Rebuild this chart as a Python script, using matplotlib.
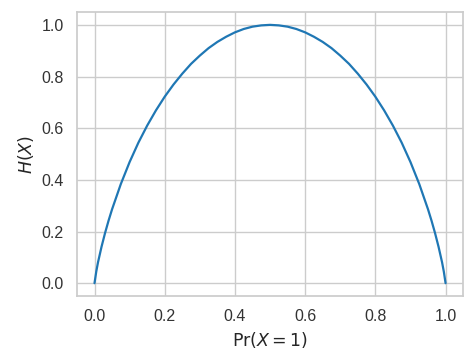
import matplotlib
matplotlib.use("Agg")
import matplotlib.pyplot as plt
import seaborn as sns

# probability of X = 1 and the entropy
p = [0.0, 0.005, 0.01, 0.02, 0.03, 0.04, 0.05, 0.075, 0.1, 0.125, 0.15,
     0.175, 0.2, 0.225, 0.25, 0.275, 0.3, 0.325, 0.35, 0.375, 0.4, 0.425,
     0.45, 0.475, 0.5, 0.525, 0.55, 0.575, 0.6, 0.625, 0.65, 0.675, 0.7,
     0.725, 0.75, 0.775, 0.8, 0.825, 0.85, 0.875, 0.9, 0.925, 0.95, 0.96,
     0.97, 0.98, 0.99, 0.995, 1.0]
h = [0.0, 0.045, 0.081, 0.141, 0.194, 0.242, 0.286, 0.384, 0.469, 0.544,
     0.610, 0.669, 0.722, 0.769, 0.811, 0.849, 0.881, 0.910, 0.934, 0.954,
     0.971, 0.984, 0.993, 0.998, 1.0, 0.998, 0.993, 0.984, 0.971, 0.954,
     0.934, 0.910, 0.881, 0.849, 0.811, 0.769, 0.722, 0.669, 0.610, 0.544,
     0.469, 0.384, 0.286, 0.242, 0.194, 0.141, 0.081, 0.045, 0.0]

sns.set_theme(style="whitegrid")
plt.rcParams["font.family"] = ["Liberation Sans", "DejaVu Sans"]

fig = plt.figure(figsize=(4.75, 3.62), dpi=100)
ax = fig.add_axes([0.162, 0.182, 0.813, 0.785])
ax.plot(p, h, color="#1f77b4", linewidth=1.6)
ax.set_xlabel(r"$\Pr(X = 1)$", fontsize=12.5)
ax.set_ylabel(r"$H(X)$", fontsize=12.5)
ax.set_xticks([0.0, 0.2, 0.4, 0.6, 0.8, 1.0])
ax.set_yticks([0.0, 0.2, 0.4, 0.6, 0.8, 1.0])
ax.tick_params(labelsize=11.5, labelcolor="#333333")

fig.savefig("out.png", dpi=100)
